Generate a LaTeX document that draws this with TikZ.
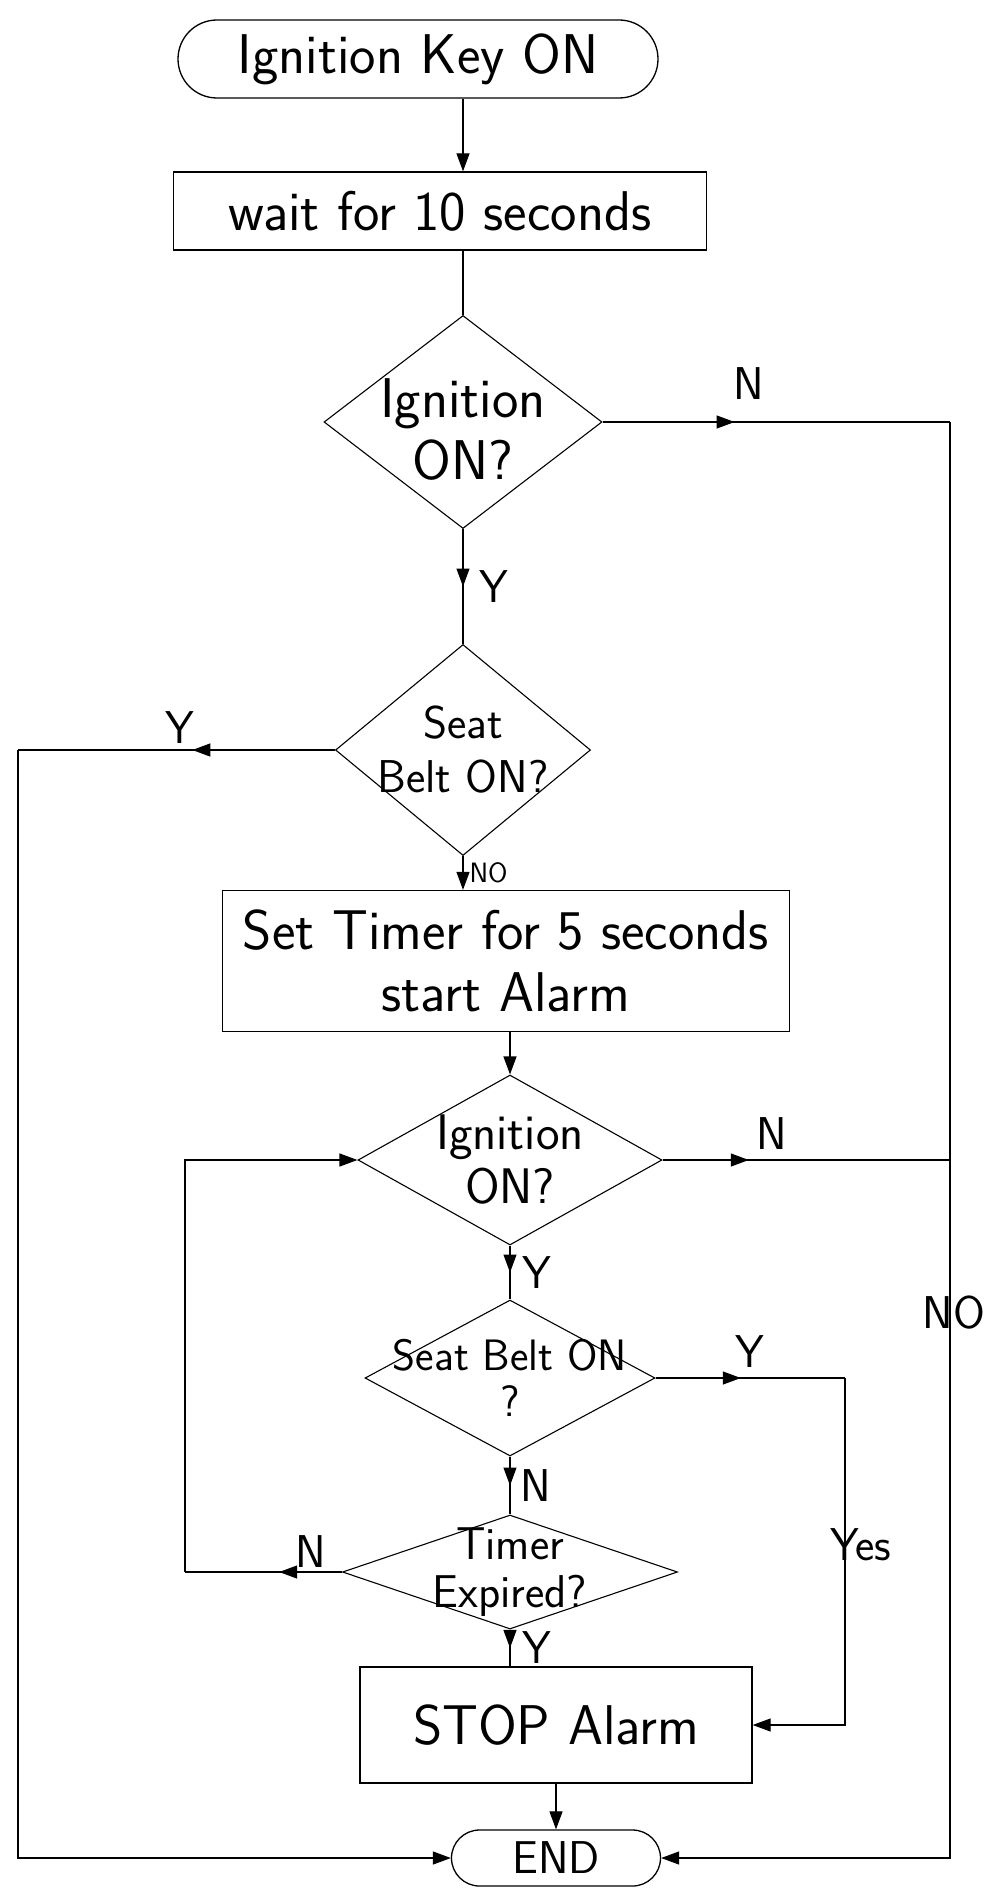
\documentclass[tikz,border=0pt]{standalone}
\usepackage{tikz}
\usetikzlibrary{arrows.meta,shapes.geometric,shapes.misc,decorations.markings,positioning}
\tikzset{
  terminal/.style={rounded rectangle,draw,line width=1.3pt,inner sep=0pt},
  proceso/.style={rectangle,draw,line width=1.3pt,inner sep=0pt,align=center},
  decision/.style={diamond,draw,line width=1.1pt,inner sep=0pt},
  flujo/.style={line width=1.2pt},
  flecha/.style={flujo,-{Triangle[length=18pt,width=13pt]}},
  flechamedio/.style={flujo,postaction={decorate},
    decoration={markings,mark=at position #1 with {\arrow{Triangle[length=18pt,width=13pt]}}}},
  flechamedio/.default=0.5,
  etiq/.style={font=\sffamily\fontsize{46}{50}\selectfont,inner sep=2pt}
}

\begin{document}
\begin{tikzpicture}[x=1pt,y=-1pt,font=\sffamily\fontsize{56}{62}\selectfont]
\useasboundingbox (0,0) rectangle (985,1892);
% cajas
\node[terminal,minimum width=480,minimum height=78] (ini) at (418,59) {Ignition Key ON};
\node[proceso,minimum width=533,minimum height=78] (espera) at (440,211) {wait for 10 seconds};
\node[decision,minimum width=278,minimum height=213,
  label={[align=center,yshift=-8pt]center:Ignition\\ON?}] (d1) at (463,422) {};
\node[decision,minimum width=255,minimum height=211,
  label={[align=center,font=\sffamily\fontsize{46}{54}\selectfont]center:Seat\\Belt ON?}] (d2) at (463,750) {};
\node[proceso,minimum width=567,minimum height=141] (alarma) at (506,961) {Set Timer for 5 seconds\\start Alarm};
\node[decision,minimum width=304,minimum height=170,
  label={[align=center,font=\sffamily\fontsize{50}{54}\selectfont]center:Ignition\\ON?}] (d3) at (510,1160) {};
\node[decision,minimum width=290,minimum height=156,
  label={[align=center,font=\sffamily\fontsize{44}{46}\selectfont]center:Seat Belt ON\\?}] (d4) at (510,1378) {};
\node[decision,minimum width=335,minimum height=114,
  label={[align=center,font=\sffamily\fontsize{46}{48}\selectfont]center:Timer\\Expired?}] (d5) at (510,1572) {};
\node[proceso,minimum width=392,minimum height=116] (parar) at (556,1725) {STOP Alarm};
\node[terminal,minimum width=209,minimum height=56,font=\sffamily\fontsize{46}{50}\selectfont] (fin) at (556,1858) {END};
% lineas de retorno
\coordinate (der) at (950,0);
\coordinate (dery) at (845,0);
\coordinate (izq) at (18,0);
\coordinate (lazo) at (185,0);
% flujo principal
\draw[flecha] (ini.south -| d1.north) -- (espera.north -| d1.north);
\draw[flujo] (espera.south -| d1.north) -- (d1.north);
\draw[flechamedio] (d1.south) -- node[etiq,right=14pt] (y1) {Y} (d2.north);
\draw[flecha] (d2.south) -- node[etiq,right=4pt,font=\sffamily\fontsize{28}{30}\selectfont] (no1) {NO} (d2.south |- alarma.north);
\draw[flecha] (alarma.south -| d3.north) -- (d3.north);
\draw[flechamedio] (d3.south) -- node[etiq,right=10pt] (y3) {Y} (d4.north);
\draw[flechamedio] (d4.south) -- node[etiq,right=8pt] (n4) {N} (d5.north);
\draw[flechamedio] (d5.south) -- node[etiq,right=10pt] (y5) {Y} (d5.south |- parar.north);
\draw[flecha] (parar.south) -- (fin.north);
% ramas laterales
\draw[flechamedio=.38] (d1.east) -- node[etiq,pos=.42,above=20pt] (n1) {N} (d1.east -| der);
\draw[flecha] (d1.east -| der) |- node[etiq,pos=.31,xshift=4pt] (no2) {NO} (fin.east);
\draw[flechamedio=.3] (d3.east) -- node[etiq,pos=.38,above=8pt] (n3) {N} (d3.east -| der);
\draw[flechamedio=.45] (d4.east) -- node[etiq,pos=.5,above=8pt] (y4) {Y} (d4.east -| dery);
\draw[flecha] (d4.east -| dery) |- node[etiq,pos=.24,xshift=16pt] (si) {Yes} (parar.east);
\draw[flechamedio=.45] (d2.west) -- node[etiq,pos=.49,above=4pt] (y2) {Y} (d2.west -| izq);
\draw[flecha] (d2.west -| izq) |- (fin.west);
\draw[flechamedio=.4] (d5.west) -- node[etiq,pos=.2,above=2pt] (n5) {N} (d5.west -| lazo);
\draw[flecha] (d5.west -| lazo) |- (d3.west);
\end{tikzpicture}
\end{document}
